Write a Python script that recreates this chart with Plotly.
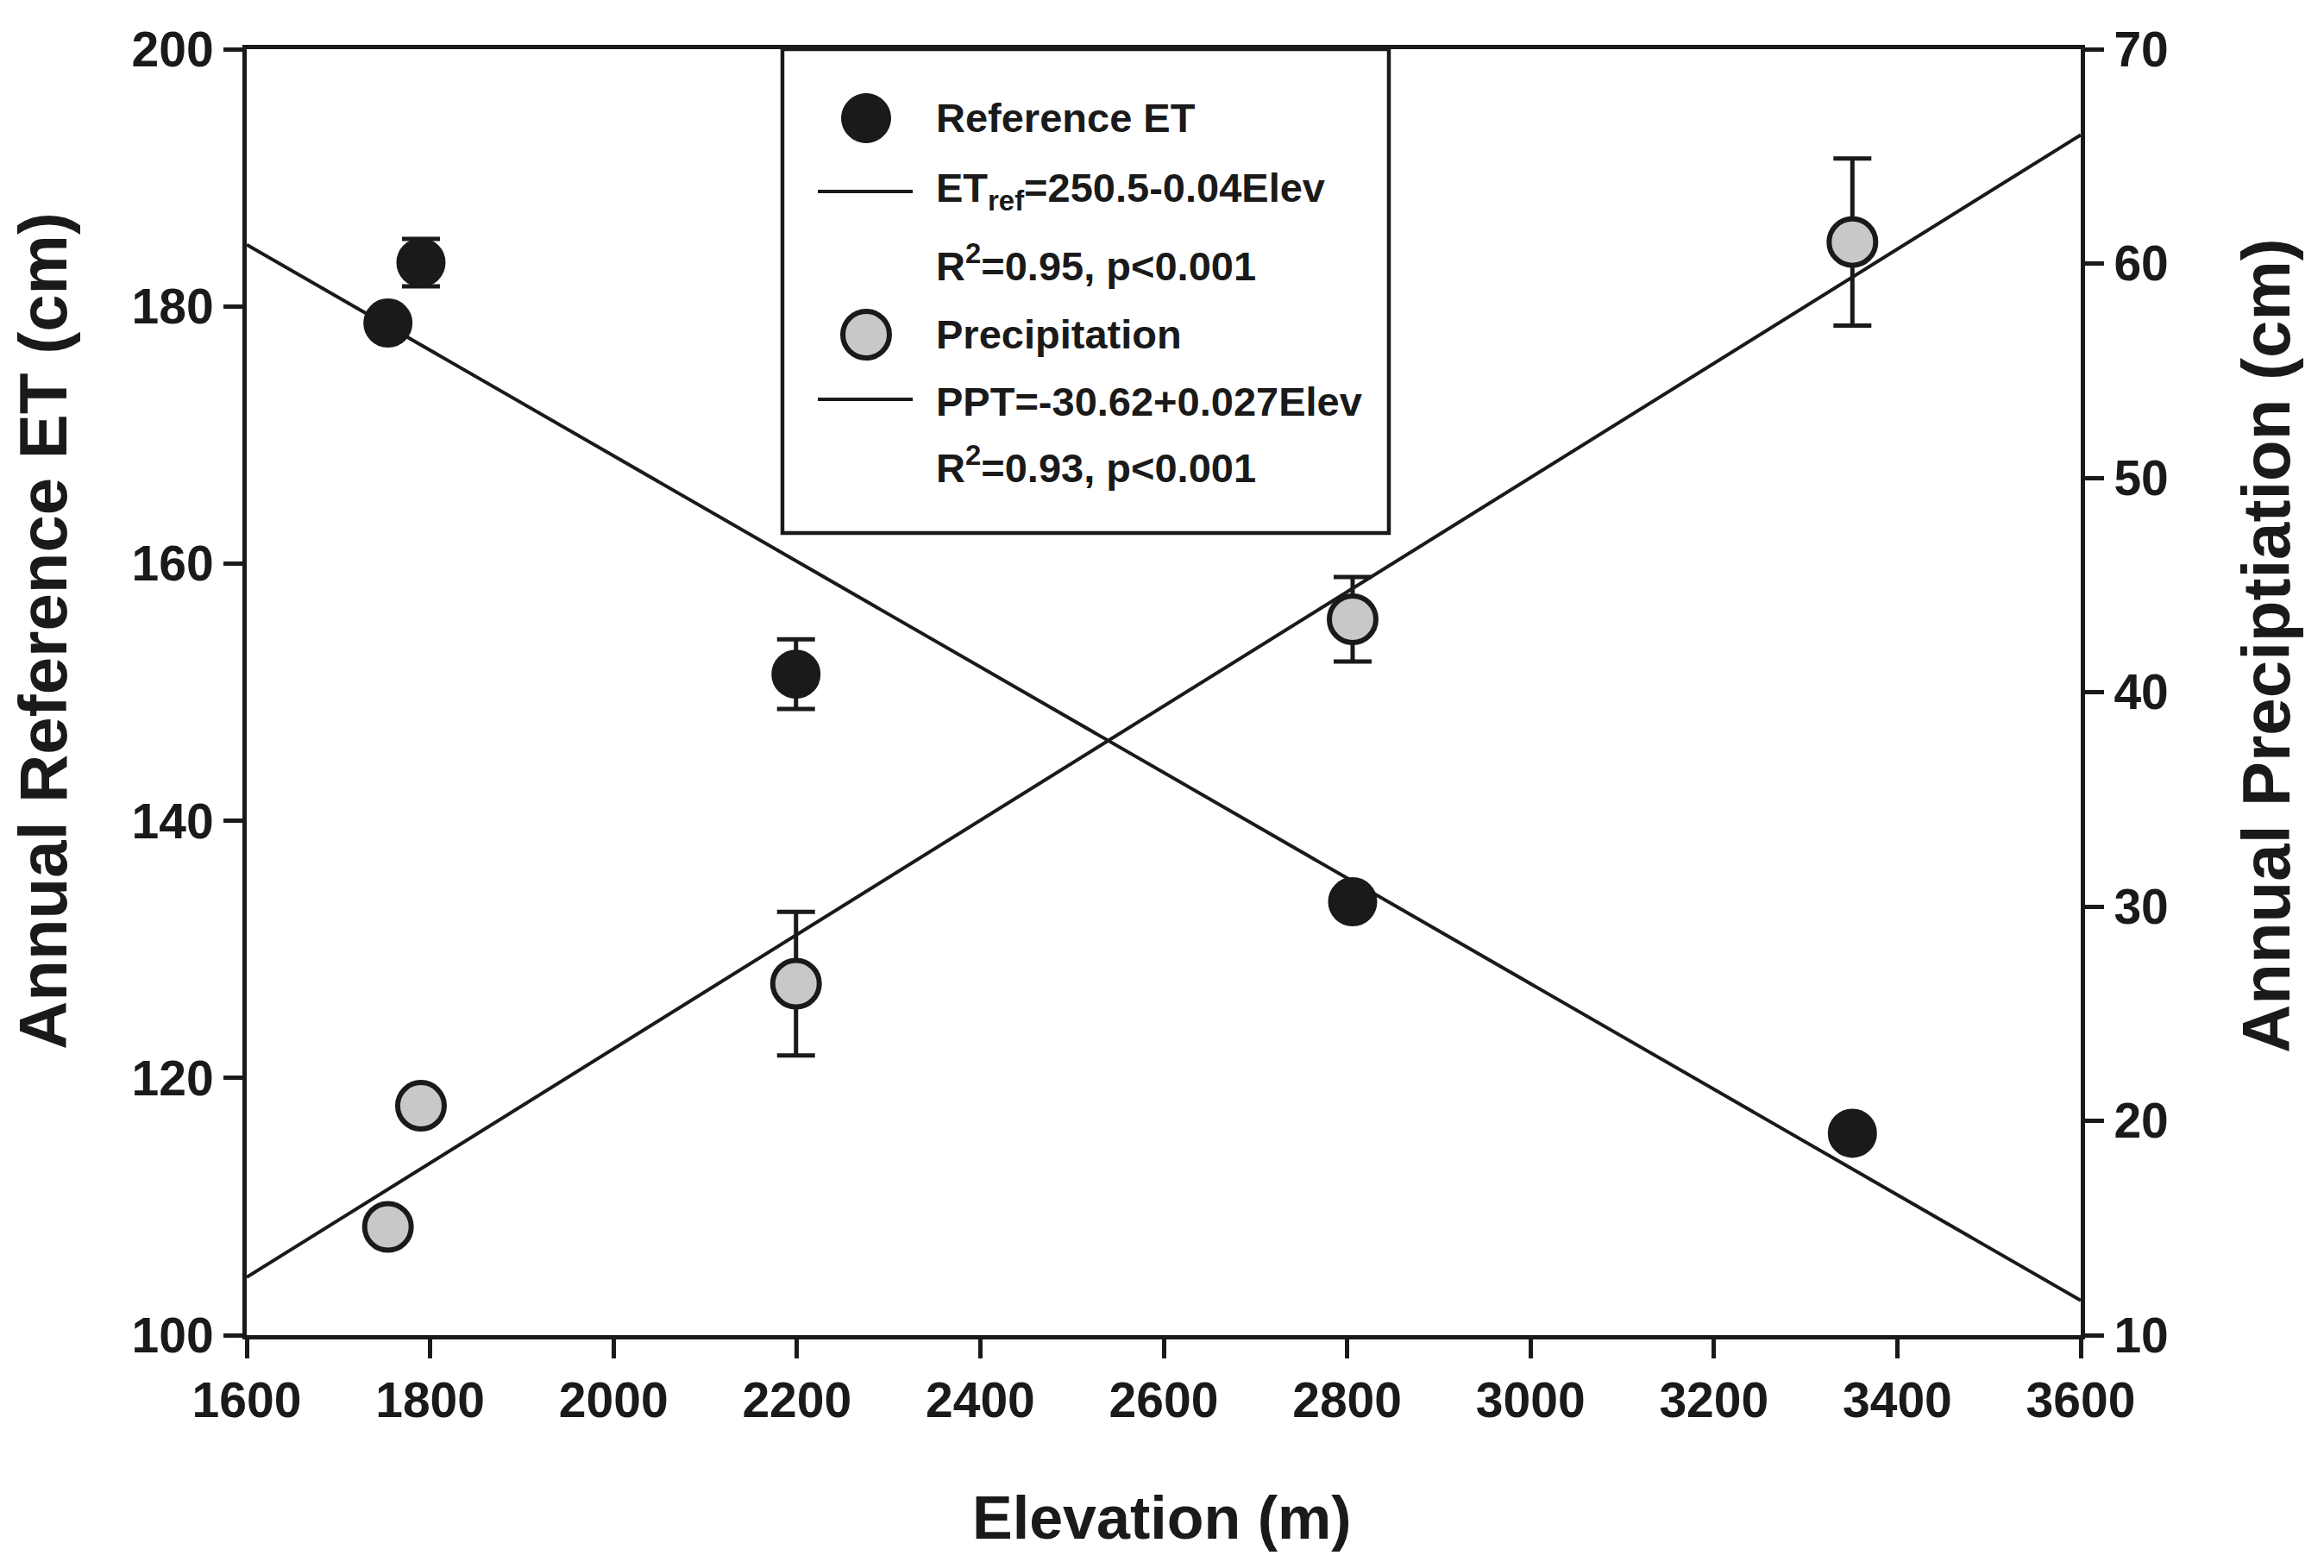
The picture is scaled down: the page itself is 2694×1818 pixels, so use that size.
import plotly.graph_objects as go

# ---------------- data ----------------
elevation = [1754, 1790, 2199, 2806, 3351]
ref_et = [178.7, 183.4, 151.4, 133.7, 115.7]
ref_et_err = [0, 1.85, 2.7, 0, 0]
precip = [15.05, 20.7, 26.4, 43.4, 61.0]
precip_err = [0, 0, 3.35, 1.97, 3.9]

fit_x = [1600, 3600]
et_fit = [184.8, 102.7]
ppt_fit = [12.7, 66.0]

x_ticks = [1600, 1800, 2000, 2200, 2400, 2600, 2800, 3000, 3200, 3400, 3600]
yl_ticks = [100, 120, 140, 160, 180, 200]
yr_ticks = [10, 20, 30, 40, 50, 60, 70]

legend_lines = [
    "Reference ET",
    "ET<sub>ref</sub>=250.5-0.04Elev",
    "R<sup>2</sup>=0.95, p&lt;0.001",
    "Precipitation",
    "PPT=-30.62+0.027Elev",
    "R<sup>2</sup>=0.93, p&lt;0.001",
]

# ---------------- layout geometry ----------------
W, H = 2694, 1818
L, R, T, B = 286, 2412, 57, 1548
PW, PH = R - L, B - T
INK = "#1a1a1a"
FONT = "Liberation Sans, Arial, sans-serif"


def px(xp):
    return (xp - L) / PW


def py(yp):
    return (B - yp) / PH


fig = go.Figure()

fig.add_trace(go.Scatter(x=fit_x, y=et_fit, mode="lines",
                         line=dict(color=INK, width=4), showlegend=False, yaxis="y"))
fig.add_trace(go.Scatter(x=elevation, y=ref_et, mode="markers",
                         marker=dict(size=55, color=INK, line=dict(color=INK, width=2)),
                         error_y=dict(type="data", array=ref_et_err, visible=True,
                                      thickness=5, width=22, color=INK),
                         showlegend=False, yaxis="y"))
fig.add_trace(go.Scatter(x=fit_x, y=ppt_fit, mode="lines",
                         line=dict(color=INK, width=4), showlegend=False, yaxis="y2"))
fig.add_trace(go.Scatter(x=elevation, y=precip, mode="markers",
                         marker=dict(size=54, color="#c8c8c8", line=dict(color=INK, width=6)),
                         error_y=dict(type="data", array=precip_err, visible=True,
                                      thickness=5, width=22, color=INK),
                         showlegend=False, yaxis="y2"))

tickfont = dict(family=FONT, size=57, color=INK, weight="bold")
axis_common = dict(showgrid=False, zeroline=False, ticks="outside", ticklen=22,
                   tickwidth=5, tickcolor=INK, showline=True, linewidth=5,
                   linecolor=INK, tickfont=tickfont)

fig.update_layout(
    width=W, height=H,
    margin=dict(l=L, r=W - R, t=T, b=H - B),
    paper_bgcolor="white", plot_bgcolor="white",
    showlegend=False,
    xaxis=dict(range=[1600, 3600], tickvals=x_ticks, mirror=True, **axis_common),
    yaxis=dict(range=[100, 200], tickvals=yl_ticks, **axis_common),
    yaxis2=dict(range=[10, 70], tickvals=yr_ticks, overlaying="y", side="right",
                **axis_common),
)

annotations = []
# axis titles
annotations.append(dict(x=px(1347), y=py(1760), xref="paper", yref="paper",
                        text="<b>Elevation (m)</b>", showarrow=False,
                        xanchor="center", yanchor="middle",
                        font=dict(family=FONT, size=70, color=INK)))
annotations.append(dict(x=px(50), y=py(732), xref="paper", yref="paper",
                        text="<b>Annual Reference ET (cm)</b>", showarrow=False,
                        textangle=-90, xanchor="center", yanchor="middle",
                        font=dict(family=FONT, size=78, color=INK)))
annotations.append(dict(x=px(2627), y=py(749), xref="paper", yref="paper",
                        text="<b>Annual Preciptiation (cm)</b>", showarrow=False,
                        textangle=-90, xanchor="center", yanchor="middle",
                        font=dict(family=FONT, size=78, color=INK)))

# legend text
legend_y = [137, 221, 305, 387, 466, 539]
for txt, yy in zip(legend_lines, legend_y):
    annotations.append(dict(x=px(1083), y=py(yy), xref="paper", yref="paper",
                            text="<b>" + txt + "</b>",
                            showarrow=False, xanchor="left", yanchor="middle",
                            font=dict(family=FONT, size=47, color=INK)))
fig.update_layout(annotations=annotations)

shapes = []
# legend box
shapes.append(dict(type="rect", xref="paper", yref="paper",
                   x0=px(907), x1=px(1610), y0=py(57), y1=py(618),
                   line=dict(color=INK, width=4.5), fillcolor="white", layer="below"))
# legend symbols
shapes.append(dict(type="circle", xref="paper", yref="paper",
                   xsizemode="pixel", ysizemode="pixel",
                   xanchor=px(1004), yanchor=py(137),
                   x0=-28.5, x1=28.5, y0=-28.5, y1=28.5,
                   fillcolor=INK, line=dict(color=INK, width=1)))
shapes.append(dict(type="circle", xref="paper", yref="paper",
                   xsizemode="pixel", ysizemode="pixel",
                   xanchor=px(1004), yanchor=py(388),
                   x0=-27, x1=27, y0=-27, y1=27,
                   fillcolor="#c8c8c8", line=dict(color=INK, width=6)))
shapes.append(dict(type="line", xref="paper", yref="paper",
                   x0=px(948), x1=px(1058), y0=py(222), y1=py(222),
                   line=dict(color=INK, width=4)))
shapes.append(dict(type="line", xref="paper", yref="paper",
                   x0=px(948), x1=px(1058), y0=py(463), y1=py(463),
                   line=dict(color=INK, width=4)))
fig.update_layout(shapes=shapes)

fig.write_html("out.html", config={"displayModeBar": False},
               post_script="document.body.style.margin='0';")
